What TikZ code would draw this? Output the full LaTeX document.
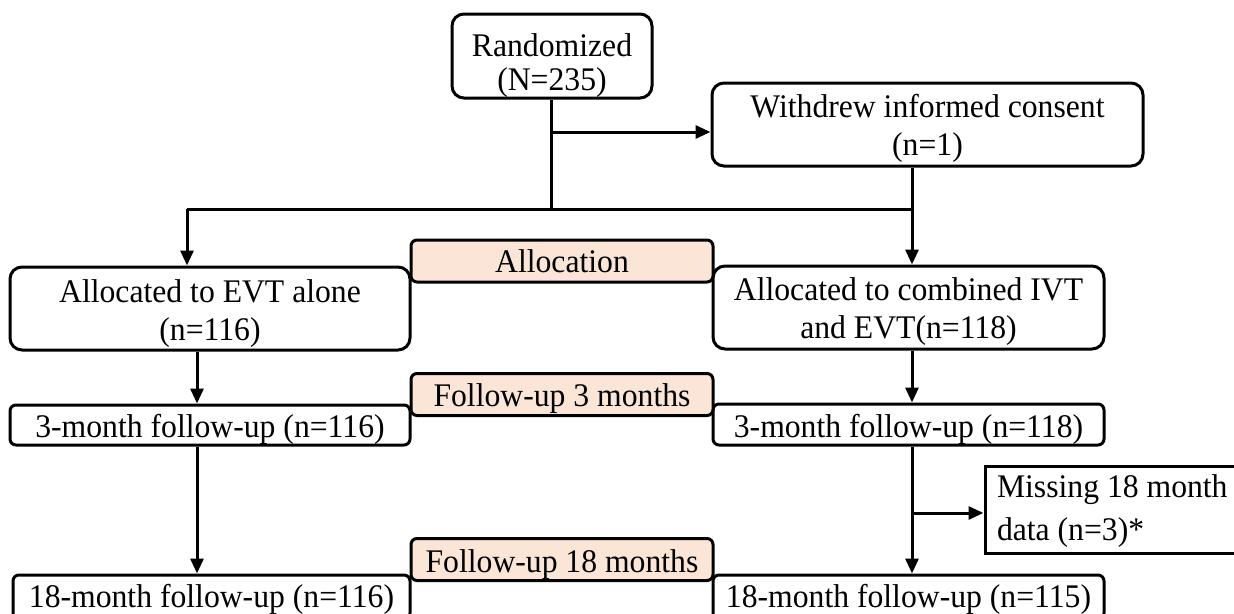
\documentclass[tikz,border=0pt]{standalone}
\usepackage{fontspec}
\setmainfont{Liberation Serif}[FakeStretch=0.96]
\usetikzlibrary{arrows.meta,calc}
\definecolor{peach}{HTML}{FBE5D6}
% #1 = downward shift, #2 = baselineskip, #3 = lines
\newcommand{\boxtext}[3]{\raisebox{-#1}[\height][\depth]{\fontsize{33}{#2}\selectfont\begin{tabular}{@{}c@{}}#3\end{tabular}}}
\newcommand{\boxtextl}[3]{\makebox[241pt][l]{\raisebox{-#1}[\height][\depth]{\fontsize{33}{#2}\selectfont\begin{tabular}{@{}l@{}}#3\end{tabular}}}}
\begin{document}
\begin{tikzpicture}[x=1pt,y=-1pt,
  every node/.style={font=\fontsize{33}{37}\selectfont, inner sep=0pt, line width=3pt},
  bigbox/.style={draw, rounded corners=12pt},
  thinbox/.style={draw, rounded corners=6pt},
  headbox/.style={draw, rounded corners=6pt, fill=peach, minimum width=302pt, minimum height=42pt},
  sqbox/.style={draw, minimum width=265pt, minimum height=87pt},
  conn/.style={line width=3pt},
  arr/.style={conn, -{Triangle[length=15pt,width=13pt]}}]
\useasboundingbox (0,0) rectangle (1234,613);
\fill[white] (0,0) rectangle (1234,613);

\node[bigbox, minimum width=200pt, minimum height=84pt] (rand) at (552,56) {\boxtext{11pt}{34pt}{Randomized\\(N=235)}};
\node[bigbox, minimum width=431pt, minimum height=83pt] (wd) at (927.5,124.5) {\boxtext{3.9pt}{38pt}{Withdrew informed consent\\(n=1)}};
\node[bigbox, minimum width=400pt, minimum height=83pt] (evt) at (210,308.5) {\boxtext{4.9pt}{38pt}{Allocated to EVT alone\\(n=116)}};
\node[bigbox, minimum width=391pt, minimum height=83pt] (comb) at (908.5,307.5) {\boxtext{3.9pt}{38pt}{Allocated to combined IVT\\and EVT(n=118)}};
\node[thinbox, minimum width=400pt, minimum height=40pt] (l3) at (210,425) {\boxtext{4.6pt}{37pt}{3-month follow-up (n=116)}};
\node[thinbox, minimum width=391pt, minimum height=41pt] (r3) at (908.5,424.5) {\boxtext{5.1pt}{37pt}{3-month follow-up (n=118)}};
\node[thinbox, minimum width=397pt, minimum height=44pt] (l18) at (211.5,597) {\boxtext{2.6pt}{37pt}{18-month follow-up (n=116)}};
\node[thinbox, minimum width=391pt, minimum height=44pt] (r18) at (908.5,597) {\boxtext{2.6pt}{37pt}{18-month follow-up (n=115)}};
\node[sqbox] (miss) at (1117.5,509.5) {\boxtextl{0.4pt}{43pt}{Missing 18 month\\data (n=3)*}};

\node[headbox] (halloc) at (562,261) {\boxtext{3.6pt}{37pt}{Allocation}};
\node[headbox] (h3) at (562,394.5) {\boxtext{4.1pt}{37pt}{Follow-up 3 months}};
\node[headbox] (h18) at (562,559.5) {\boxtext{5.1pt}{37pt}{Follow-up 18 months}};

\coordinate (lx) at (187,0);
\coordinate (lx2) at (197,0);
\coordinate (rx) at (912,0);
\coordinate (split) at (551,209);
\coordinate (jw) at (551,132);
\coordinate (jm) at (912,513);

\draw[conn] (rand.south -| split) -- (split);
\draw[arr] (jw) -- (wd.west |- jw);
\draw[conn] (split -| lx) -- (split -| rx);
\draw[arr] (split -| lx) -- (evt.north -| lx);
\draw[arr] (wd.south -| rx) -- (comb.north -| rx);
\draw[arr] (evt.south -| lx2) -- (l3.north -| lx2);
\draw[arr] (l3.south -| lx2) -- (l18.north -| lx2);
\draw[arr] (comb.south -| rx) -- (r3.north -| rx);
\draw[arr] (r3.south -| rx) -- (r18.north -| rx);
\draw[arr] (jm) -- (miss.west |- jm);
\end{tikzpicture}
\end{document}
